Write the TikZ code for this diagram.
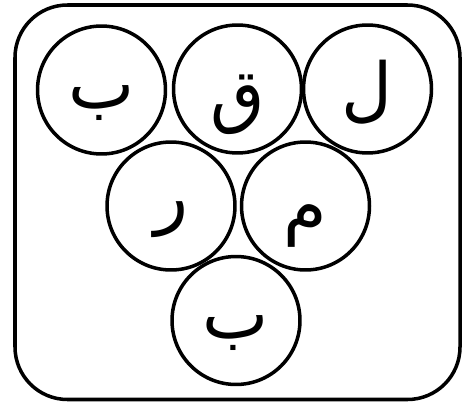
\documentclass[tikz,border=0pt]{standalone}
\usepackage{fontspec}
\newfontfamily\arabicfont[Script=Arabic]{DejaVu Sans}
\TeXXeTstate=1
\usetikzlibrary{positioning}
\tikzset{
  ball/.style={draw=black,circle,line width=2pt,minimum size=2.56cm,inner sep=0pt},
  letter/.style={font=\arabicfont\fontsize{40}{46}\selectfont,inner sep=0pt},
  tray/.style={draw=black,rounded corners=1.05cm,line width=2pt}
}

\begin{document}
\begin{tikzpicture}[x=0.02cm,y=-0.02cm]
\useasboundingbox (0,0) rectangle (473,402);
\draw[tray] (15,5) rectangle (460,399.5);

% top row
\node[ball] (ba)  at (101.5,90) {};
\node[ball] (qaf) at (237.5,89) {};
\node[ball] (lam) at (367.5,89) {};
% middle row
\node[ball] (ra)  at (171,206) {};
\node[ball] (mim) at (305.5,206) {};
% bottom
\node[ball] (bb)  at (236,320.5) {};

\node[letter] at ([yshift=-13*0.02cm]ba.center)  {\beginR ب\endR};
\node[letter] at ([yshift=-16*0.02cm]qaf.center) {\beginR ق\endR};
\node[letter] at ([yshift=-3*0.02cm]lam.center)  {\beginR ل\endR};
\node[letter] at ([yshift=-14*0.02cm]ra.center)  {\beginR ر\endR};
\node[letter] at ([yshift=-20*0.02cm]mim.center) {\beginR م\endR};
\node[letter] at ([yshift=-13*0.02cm]bb.center)  {\beginR ب\endR};
\end{tikzpicture}
\end{document}
